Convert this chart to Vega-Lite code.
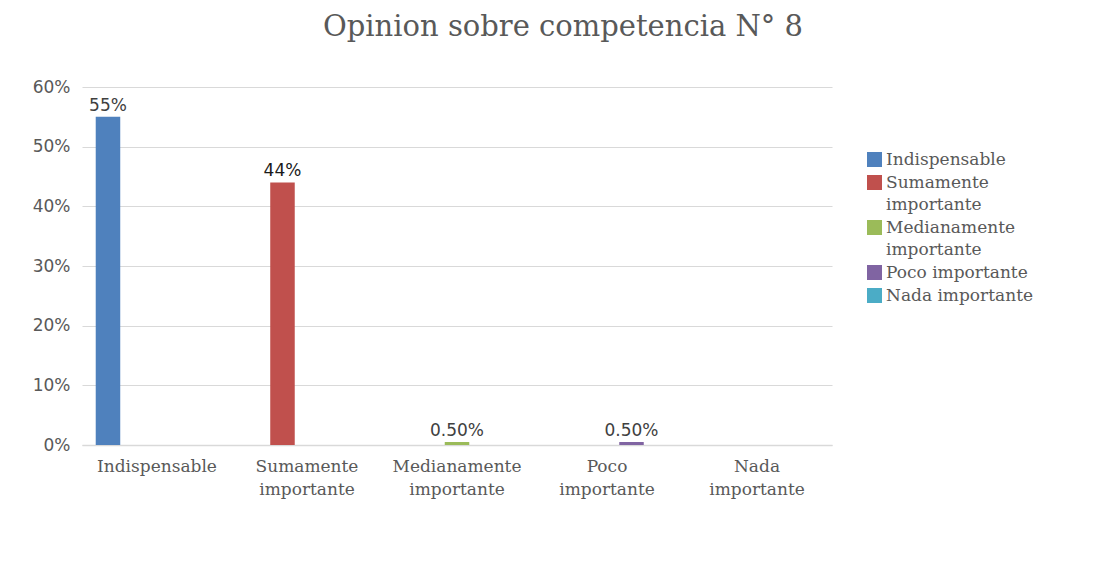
{
  "$schema": "https://vega.github.io/schema/vega-lite/v6.json",
  "width": 750,
  "height": 358,
  "autosize": "none",
  "padding": {"left": 82, "top": 87, "right": 274, "bottom": 135},
  "background": "white",
  "title": {
    "text": "Opinion sobre competencia N° 8",
    "font": "DejaVu Serif",
    "fontSize": 29,
    "fontWeight": "normal",
    "color": "#595959",
    "anchor": "middle",
    "dx": 106,
    "offset": 36
  },
  "data": {
    "values": [
      {"categoria": "Indispensable", "porcentaje": 0.55, "etiqueta": "55%"},
      {"categoria": "Sumamente importante", "porcentaje": 0.44, "etiqueta": "44%"},
      {"categoria": "Medianamente importante", "porcentaje": 0.005, "etiqueta": "0.50%"},
      {"categoria": "Poco importante", "porcentaje": 0.005, "etiqueta": "0.50%"},
      {"categoria": "Nada importante", "porcentaje": 0, "etiqueta": ""}
    ]
  },
  "encoding": {
    "x": {
      "field": "categoria",
      "type": "nominal",
      "sort": ["Indispensable", "Sumamente importante", "Medianamente importante", "Poco importante", "Nada importante"],
      "scale": {"paddingInner": 0, "paddingOuter": 0},
      "axis": {
        "title": null,
        "labelAngle": 0,
        "labelFont": "DejaVu Serif",
        "labelFontSize": 17,
        "labelColor": "#595959",
        "labelPadding": 13,
        "labelLineHeight": 23,
        "labelExpr": "split(datum.value, ' ')",
        "ticks": false,
        "domain": true,
        "domainColor": "#d9d9d9",
        "domainWidth": 1.5,
        "grid": false
      }
    },
    "xOffset": {
      "field": "categoria",
      "type": "nominal",
      "sort": ["Indispensable", "Sumamente importante", "Medianamente importante", "Poco importante", "Nada importante"],
      "scale": {"paddingInner": 0, "paddingOuter": 0.56}
    },
    "y": {
      "field": "porcentaje",
      "type": "quantitative",
      "scale": {"domain": [0, 0.6], "nice": false},
      "axis": {
        "title": null,
        "format": ".0%",
        "values": [0, 0.1, 0.2, 0.3, 0.4, 0.5, 0.6],
        "labelFont": "DejaVu Sans",
        "labelFontSize": 17,
        "labelColor": "#595959",
        "labelPadding": 12,
        "ticks": false,
        "domain": false,
        "grid": true,
        "gridColor": "#d9d9d9",
        "gridWidth": 1.2
      }
    }
  },
  "layer": [
    {
      "mark": {"type": "bar"},
      "encoding": {
        "color": {
          "field": "categoria",
          "type": "nominal",
          "sort": ["Indispensable", "Sumamente importante", "Medianamente importante", "Poco importante", "Nada importante"],
          "scale": {
            "domain": ["Indispensable", "Sumamente importante", "Medianamente importante", "Poco importante", "Nada importante"],
            "range": ["#4f81bd", "#c0504d", "#9bbb59", "#8064a2", "#4bacc6"]
          },
          "legend": {
            "title": null,
            "orient": "none",
            "legendX": 784,
            "legendY": 64,
            "symbolType": "square",
            "symbolSize": 225,
            "symbolStrokeWidth": 0,
            "labelFont": "DejaVu Serif",
            "labelFontSize": 17,
            "labelColor": "#595959",
            "labelOffset": 3,
            "rowPadding": 5,
            "labelLimit": 230,
            "labelExpr": "datum.value == 'Sumamente importante' || datum.value == 'Medianamente importante' ? split(datum.value, ' ') : datum.value",
            "encode": {"labels": {"update": {"lineHeight": {"value": 22.5}}}}
          }
        }
      }
    },
    {
      "mark": {"type": "text", "baseline": "bottom", "dy": -2, "font": "DejaVu Sans", "fontSize": 17},
      "encoding": {
        "text": {"field": "etiqueta"},
        "color": {"condition": {"test": "datum.etiqueta == '44%'", "value": "#1a1a1a"}, "value": "#404040"}
      }
    }
  ],
  "config": {
    "view": {"stroke": null}
  }
}
